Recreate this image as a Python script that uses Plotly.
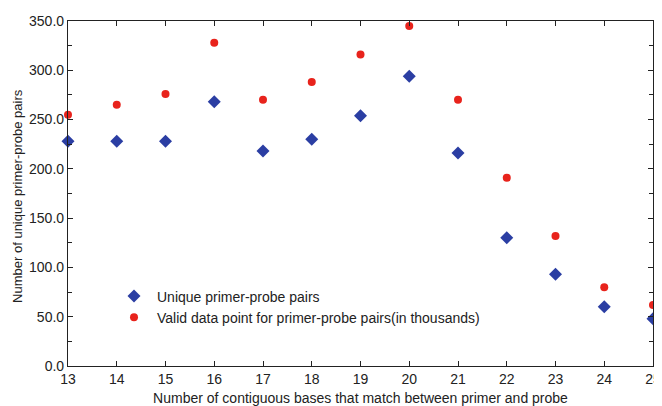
import plotly.graph_objects as go

bases = [13, 14, 15, 16, 17, 18, 19, 20, 21, 22, 23, 24, 25]
unique_pairs = [228, 228, 228, 268, 218, 230, 254, 294, 216, 130, 93, 60, 48]
valid_points = [255, 265, 276, 328, 270, 288, 316, 345, 270, 191, 132, 80, 62]

font_family = "Liberation Sans, Arial, Helvetica, sans-serif"
txt = "#222"

fig = go.Figure()
fig.add_trace(go.Scatter(
    x=bases, y=unique_pairs, mode="markers", name="Unique primer-probe pairs",
    marker=dict(symbol="diamond", size=10, color="#2b3ea3"), cliponaxis=False))
fig.add_trace(go.Scatter(
    x=bases, y=valid_points, mode="markers",
    name="Valid data point for primer-probe pairs(in thousands)",
    marker=dict(symbol="circle", size=8, color="#e8231c"), cliponaxis=False))

axis_common = dict(showline=True, linecolor="#222", linewidth=1.2, mirror="ticks",
                   ticks="inside", ticklen=5, tickcolor="#222", showgrid=False,
                   zeroline=False, automargin=False,
                   tickfont=dict(size=14, color=txt, family=font_family))

fig.update_xaxes(range=[13, 25], tickmode="linear", tick0=13, dtick=1,
                 title=dict(text="Number of contiguous bases that match between primer and probe",
                            font=dict(size=14, color=txt, family=font_family), standoff=8),
                 **axis_common)
fig.update_yaxes(range=[0, 350], tickmode="linear", tick0=0, dtick=50, tickformat=".1f",
                 minor=dict(ticks="inside", ticklen=4, tickcolor="#222", dtick=25, tick0=0),
                 **axis_common)

fig.add_annotation(text="Number of unique primer-probe pairs", textangle=-90,
                   xref="paper", yref="paper", x=-0.0855, y=0.493,
                   xanchor="center", yanchor="middle", showarrow=False,
                   font=dict(size=13, color=txt, family=font_family))

fig.update_layout(
    width=654, height=398,
    margin=dict(l=60, r=9, t=13, b=40),
    plot_bgcolor="white", paper_bgcolor="white",
    font=dict(family=font_family, color=txt),
    legend=dict(x=0.0735, y=0.248, xanchor="left", yanchor="top", itemwidth=36,
                bgcolor="rgba(0,0,0,0)", font=dict(size=14, color=txt, family=font_family),
                tracegroupgap=0),
)

fig.write_html("out.html")
